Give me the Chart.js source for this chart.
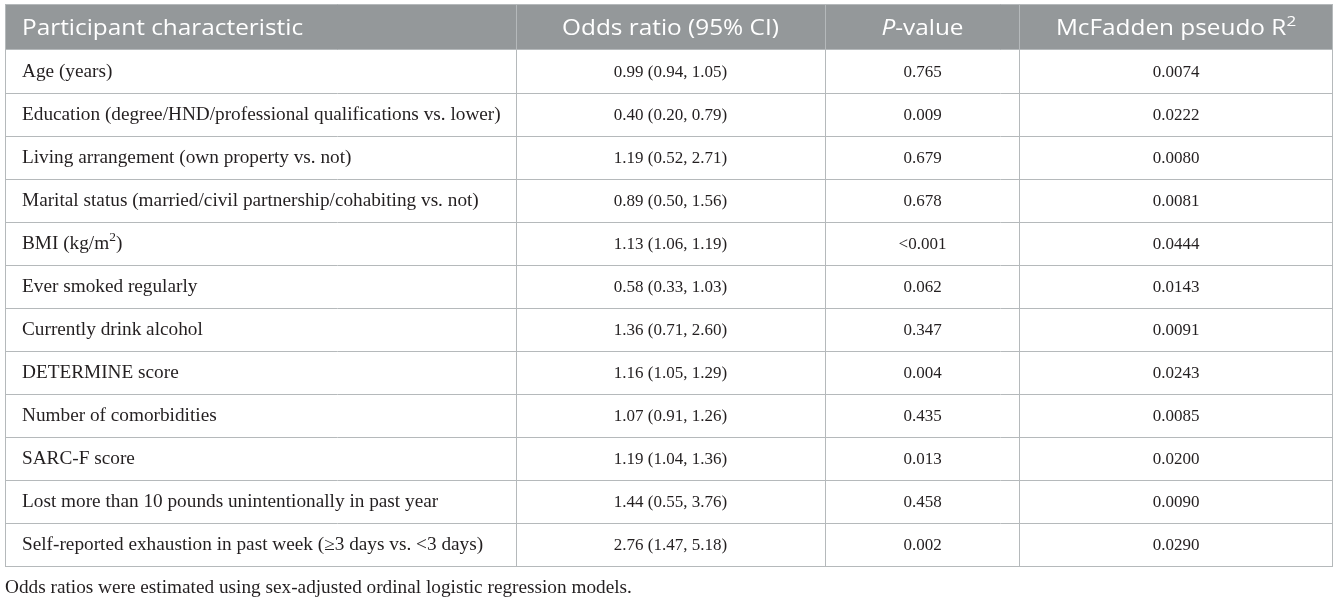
<!DOCTYPE html>
<html><head><meta charset="utf-8">
<script src="https://cdn.jsdelivr.net/npm/chart.js@4.4.1/dist/chart.umd.min.js"></script>
<style>html,body{margin:0;padding:0;background:#fff;overflow:hidden;}</style>
</head><body>
<canvas id="c" width="1337" height="600"></canvas>
<script>
// ---- data ----
const columnHeaders = ['Participant characteristic', 'Odds ratio (95% CI)', '*P*-value', 'McFadden pseudo R^2'];
const characteristics = [
  'Age (years)',
  'Education (degree/HND/professional qualifications vs. lower)',
  'Living arrangement (own property vs. not)',
  'Marital status (married/civil partnership/cohabiting vs. not)',
  'BMI (kg/m^2)',
  'Ever smoked regularly',
  'Currently drink alcohol',
  'DETERMINE score',
  'Number of comorbidities',
  'SARC-F score',
  'Lost more than 10 pounds unintentionally in past year',
  'Self-reported exhaustion in past week (≥3 days vs. <3 days)'
];
const oddsRatios = [
  '0.99 (0.94, 1.05)', '0.40 (0.20, 0.79)', '1.19 (0.52, 2.71)', '0.89 (0.50, 1.56)',
  '1.13 (1.06, 1.19)', '0.58 (0.33, 1.03)', '1.36 (0.71, 2.60)', '1.16 (1.05, 1.29)',
  '1.07 (0.91, 1.26)', '1.19 (1.04, 1.36)', '1.44 (0.55, 3.76)', '2.76 (1.47, 5.18)'
];
const pValues = ['0.765', '0.009', '0.679', '0.678', '<0.001', '0.062', '0.347', '0.004', '0.435', '0.013', '0.458', '0.002'];
const pseudoR2 = ['0.0074', '0.0222', '0.0080', '0.0081', '0.0444', '0.0143', '0.0091', '0.0243', '0.0085', '0.0200', '0.0090', '0.0290'];
const footnote = 'Odds ratios were estimated using sex-adjusted ordinal logistic regression models.';

// ---- layout / style ----
const colWidths = [511, 309, 195, 312];
const firstColPad = 17;
const headerRowHeight = 46 / 43;   // in row units
const headerBg = '#94989a';
const gridColor = '#b5b9bb';
const bodyColor = '#231f20';
const headerFont = { family: '"Open Sans", "Noto Sans", sans-serif', size: 21, weight: '400', stretch: 1.16 };
const labelFont = { family: '"Liberation Serif", serif', size: 18, weight: '400', stretch: 1.07 };
const numberFont = { family: '"Liberation Serif", serif', size: 17, weight: '400', stretch: 1.0 };

const colEdges = colWidths.reduce((a, w) => { a.push(a[a.length - 1] + w); return a; }, [0]);
const totalW = colEdges[colEdges.length - 1];
const columns = [characteristics, oddsRatios, pValues, pseudoR2];

function parseRich(s) {
  const segs = []; let italic = false;
  for (let i = 0; i < s.length; i++) {
    const ch = s[i];
    if (ch === '*') { italic = !italic; continue; }
    if (ch === '^' && i + 1 < s.length) { segs.push({ t: s[i + 1], italic, sup: true }); i++; continue; }
    const last = segs[segs.length - 1];
    if (last && !last.sup && last.italic === italic) last.t += ch; else segs.push({ t: ch, italic, sup: false });
  }
  return segs;
}
function fontStr(f, italic, size) { return (italic ? 'italic ' : '') + f.weight + ' ' + size + 'px ' + f.family; }
function drawRich(ctx, s, x, y, align, f, color) {
  const segs = parseRich(s);
  const supSize = f.size * 0.7;
  const sx = f.stretch || 1;
  let total = 0;
  segs.forEach(sg => { ctx.font = fontStr(f, sg.italic, sg.sup ? supSize : f.size); sg.w = ctx.measureText(sg.t).width * sx; total += sg.w; });
  let cx = align === 'left' ? x : x - total / 2;
  ctx.fillStyle = color; ctx.textAlign = 'left'; ctx.textBaseline = 'middle';
  segs.forEach(sg => {
    ctx.font = fontStr(f, sg.italic, sg.sup ? supSize : f.size);
    ctx.save();
    ctx.translate(cx, sg.sup ? y - f.size * 0.36 : y);
    ctx.scale(sx, 1);
    ctx.fillText(sg.t, 0, 0);
    ctx.restore();
    cx += sg.w;
  });
}

const datasets = columns.map((vals, c) => {
  const x = c === 0 ? colEdges[0] + firstColPad : (colEdges[c] + colEdges[c + 1]) / 2;
  return {
    label: columnHeaders[c],
    texts: [columnHeaders[c]].concat(vals),
    align: c === 0 ? 'left' : 'center',
    data: [{ x, y: -headerRowHeight / 2 }].concat(vals.map((v, i) => ({ x, y: i + 0.5 }))),
    pointRadius: 0, showLine: false
  };
});

const tablePlugin = {
  id: 'tablePlugin',
  beforeDraw(chart) {
    const { ctx, scales: { x, y } } = chart;
    const top = y.getPixelForValue(-headerRowHeight), bot = y.getPixelForValue(0);
    ctx.save(); ctx.fillStyle = headerBg;
    ctx.fillRect(x.getPixelForValue(0), top, x.getPixelForValue(totalW) - x.getPixelForValue(0), bot - top);
    ctx.restore();
  },
  afterDatasetsDraw(chart) {
    const ctx = chart.ctx;
    ctx.save();
    chart.data.datasets.forEach((ds, di) => {
      const meta = chart.getDatasetMeta(di);
      meta.data.forEach((el, i) => {
        if (i === 0) drawRich(ctx, ds.texts[i], el.x, el.y + 2.5, ds.align, headerFont, '#ffffff');
        else drawRich(ctx, ds.texts[i], el.x, el.y + 1, ds.align, di === 0 ? labelFont : numberFont, bodyColor);
      });
    });
    // footnote below the table
    const ca = chart.chartArea;
    drawRich(ctx, footnote, ca.left, ca.bottom + 22, 'left', labelFont, bodyColor);
    ctx.restore();
  }
};

new Chart(document.getElementById('c'), {
  type: 'scatter',
  data: { datasets },
  options: {
    responsive: false, animation: false, events: [],
    layout: { padding: { left: 5, top: 4, right: 5, bottom: 34 } },
    plugins: { legend: { display: false }, tooltip: { enabled: false }, title: { display: false } },
    scales: {
      x: {
        type: 'linear', min: 0, max: totalW,
        afterBuildTicks: s => { s.ticks = colEdges.map(v => ({ value: v })); },
        ticks: { display: false },
        grid: { color: gridColor, lineWidth: 1, drawTicks: false },
        border: { display: true, color: gridColor, width: 1 }
      },
      y: {
        type: 'linear', reverse: true, min: -headerRowHeight, max: characteristics.length,
        afterBuildTicks: s => { s.ticks = [-headerRowHeight].concat(characteristics.map((_, i) => i), [characteristics.length]).map(v => ({ value: v })); },
        ticks: { display: false },
        grid: { color: gridColor, lineWidth: 1, drawTicks: false },
        border: { display: true, color: gridColor, width: 1 }
      }
    }
  },
  plugins: [tablePlugin]
});
</script>
</body></html>
